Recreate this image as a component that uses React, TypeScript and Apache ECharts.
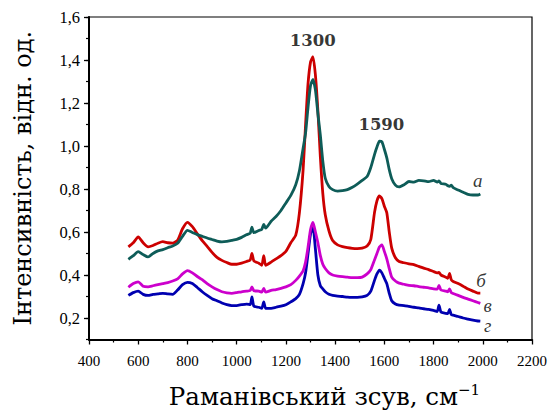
import React, { useEffect, useRef } from "react";
import * as echarts from "echarts";

// Raman shift, cm^-1
const ramanShift = [
  560, 580, 600, 620, 640, 660, 680, 700, 720, 740, 760, 780, 800, 820, 840, 860, 880, 900, 920, 940, 960, 980, 1000, 1020, 1040,
  1055, 1062, 1070, 1090, 1102, 1110, 1118,
  1140, 1160, 1180, 1200, 1220, 1240,
  1255, 1270, 1280, 1290, 1300, 1310, 1320, 1330, 1340, 1350, 1360,
  1375, 1390, 1410, 1430, 1450, 1470, 1490, 1510, 1530, 1545,
  1560, 1570, 1580, 1590, 1600, 1610, 1620, 1630, 1645, 1660,
  1680, 1700, 1720, 1740, 1760, 1780, 1800,
  1815, 1822, 1830, 1850, 1858, 1865, 1872, 1880,
  1900, 1920, 1940, 1960, 1980, 1990,
];

const intensityA = [
  0.473, 0.49, 0.509, 0.495, 0.484, 0.5, 0.512, 0.518, 0.527, 0.535, 0.548, 0.58, 0.608, 0.598, 0.588, 0.58, 0.572, 0.565, 0.558, 0.554, 0.556, 0.561, 0.566, 0.575, 0.587,
  0.595, 0.622, 0.597, 0.607, 0.612, 0.635, 0.618,
  0.65, 0.672, 0.7, 0.735, 0.77, 0.82,
  0.885, 0.99, 1.06, 1.18, 1.28, 1.31, 1.26, 1.15, 1.05, 0.93, 0.85,
  0.812, 0.797, 0.79, 0.792, 0.797, 0.808, 0.823, 0.84, 0.858, 0.9,
  0.96, 0.995, 1.022, 1.02, 0.985, 0.945, 0.89, 0.848, 0.818, 0.81,
  0.82, 0.835, 0.832, 0.84, 0.838, 0.834, 0.84,
  0.832, 0.838, 0.826, 0.822, 0.815, 0.812, 0.818, 0.806,
  0.795, 0.785, 0.775, 0.772, 0.772, 0.777,
];

const intensityB = [
  0.531, 0.55, 0.577, 0.55, 0.531, 0.537, 0.548, 0.555, 0.55, 0.548, 0.562, 0.615, 0.645, 0.625, 0.592, 0.56, 0.533, 0.505, 0.482, 0.468, 0.458, 0.45, 0.45, 0.455, 0.463,
  0.47, 0.5, 0.465, 0.455, 0.445, 0.49, 0.445,
  0.46, 0.475, 0.49, 0.51, 0.55, 0.585,
  0.69, 0.89, 1.1, 1.29, 1.39, 1.415, 1.33, 1.165, 0.95, 0.78, 0.68,
  0.605, 0.56, 0.54, 0.532, 0.527, 0.524, 0.523, 0.525, 0.535, 0.565,
  0.69, 0.745, 0.768, 0.755, 0.72, 0.69, 0.6, 0.525, 0.48, 0.463,
  0.457, 0.452, 0.448, 0.44, 0.432, 0.425, 0.416,
  0.41, 0.412, 0.4, 0.39, 0.385, 0.408, 0.378, 0.37,
  0.36, 0.348, 0.335, 0.325, 0.316, 0.316,
];

const intensityV = [
  0.343, 0.36, 0.368, 0.348, 0.345, 0.35, 0.355, 0.36, 0.365, 0.372, 0.382, 0.405, 0.42, 0.41, 0.393, 0.378, 0.36, 0.345, 0.332, 0.322, 0.317, 0.315, 0.318, 0.322, 0.325,
  0.328, 0.345, 0.327, 0.325, 0.32, 0.338, 0.32,
  0.328, 0.332, 0.338, 0.345, 0.355, 0.375,
  0.395, 0.42, 0.46, 0.53, 0.61, 0.645, 0.6, 0.55, 0.49, 0.45, 0.43,
  0.41, 0.4, 0.395, 0.392, 0.39, 0.388, 0.388, 0.39, 0.405, 0.425,
  0.47, 0.5, 0.53, 0.54, 0.51, 0.475, 0.43, 0.39, 0.372, 0.362,
  0.357, 0.352, 0.35, 0.346, 0.343, 0.34, 0.336,
  0.334, 0.352, 0.33, 0.325, 0.322, 0.335, 0.318, 0.314,
  0.305, 0.296, 0.288, 0.28, 0.272, 0.268,
];

const intensityG = [
  0.305, 0.318, 0.325, 0.31, 0.305, 0.31, 0.312, 0.315, 0.312, 0.31, 0.33, 0.355, 0.366, 0.36, 0.342, 0.322, 0.305, 0.29, 0.28, 0.27, 0.262, 0.258, 0.258, 0.262, 0.265,
  0.262, 0.298, 0.255, 0.25, 0.245, 0.275, 0.245,
  0.245, 0.25, 0.255, 0.262, 0.275, 0.29,
  0.31, 0.36, 0.41, 0.5, 0.59, 0.625, 0.52, 0.4, 0.35, 0.335, 0.322,
  0.31, 0.305, 0.302, 0.3, 0.297, 0.296, 0.296, 0.298, 0.305, 0.325,
  0.375, 0.405, 0.423, 0.41, 0.385, 0.36, 0.315, 0.28, 0.265, 0.26,
  0.258, 0.254, 0.25, 0.247, 0.243, 0.24, 0.235,
  0.23, 0.26, 0.228, 0.222, 0.22, 0.24, 0.216, 0.213,
  0.207, 0.2, 0.195, 0.19, 0.186, 0.185,
];

const curveNames = ["а", "б", "в", "г"];
const majorTicksY = [0.2, 0.4, 0.6, 0.8, 1.0, 1.2, 1.4, 1.6];
const peakLabels = ["1300", "1590"];
const peakPositions = [1309, 1588];
const peakLabelHeights = [1.49, 1.1];
const curveLabelPositions = [
  [1980, 0.84],
  [1993, 0.375],
  [2020, 0.26],
  [2020, 0.163],
];

const TITLE_FONT = "'DejaVu Serif', serif";
const TICK_FONT = "'Liberation Serif', 'Times New Roman', serif";

function zip(xs: number[], ys: number[]) {
  const n = Math.min(xs.length, ys.length);
  const out: number[][] = [];
  for (let i = 0; i < n; i++) out.push([xs[i], ys[i]]);
  return out;
}

export default function App() {
  const ref = useRef<HTMLDivElement>(null);

  useEffect(() => {
    if (!ref.current) return;
    const chart = echarts.init(ref.current, null, { renderer: "svg" });

    const colors = ["#0e5c58", "#cc0000", "#cc00cc", "#0000b0"];
    const values = [intensityA, intensityB, intensityV, intensityG];
    // draw order: г, в, б, а (а on top)
    const order = [3, 2, 1, 0];

    const lineSeries = order.map((i) => ({
      type: "line",
      name: curveNames[i],
      data: zip(ramanShift, values[i]),
      showSymbol: false,
      smooth: 0.2,
      lineStyle: { color: colors[i], width: 2.8 },
      itemStyle: { color: colors[i] },
      z: 3,
    }));

    const labelSeries = {
      type: "scatter",
      symbol: "rect",
      symbolSize: 1,
      itemStyle: { color: "rgba(0,0,0,0)" },
      silent: true,
      z: 5,
      data: [
        ...peakLabels.map((t, i) => ({
          value: [peakPositions[i], peakLabelHeights[i]],
          label: {
            show: true,
            position: "inside",
            formatter: t,
            fontFamily: TITLE_FONT,
            fontSize: 16.5,
            fontWeight: "bold",
            color: "#000",
          },
        })),
        ...curveNames.map((t, i) => ({
          value: curveLabelPositions[i],
          label: {
            show: true,
            position: "inside",
            formatter: t,
            fontFamily: TICK_FONT,
            fontStyle: "italic",
            fontSize: 19,
            color: "#000",
          },
        })),
      ],
    };

    chart.setOption({
      animation: false,
      backgroundColor: "#fff",
      grid: {
        left: 89,
        top: 17,
        right: 20,
        bottom: 71,
        show: true,
        borderColor: "#000",
        borderWidth: 1.2,
      },
      xAxis: {
        type: "value",
        min: 400,
        max: 2200,
        interval: 200,
        name: "{t|Раманівський зсув, см}{s|−1}",
        nameLocation: "middle",
        nameGap: 43,
        nameTextStyle: {
          padding: [0, 0, 0, 28],
          rich: {
            t: { fontFamily: TITLE_FONT, fontSize: 24.5, color: "#000", lineHeight: 28 },
            s: { fontFamily: TITLE_FONT, fontSize: 15, color: "#000", verticalAlign: "top", lineHeight: 15 },
          },
        },
        axisLine: { show: true, onZero: false, lineStyle: { color: "#000", width: 2 } },
        axisTick: { show: true, inside: false, length: 5, lineStyle: { color: "#000", width: 1.3 } },
        minorTick: { show: true, splitNumber: 2, length: 3, lineStyle: { color: "#000", width: 1.2 } },
        axisLabel: {
          fontFamily: TICK_FONT,
          fontSize: 15,
          color: "#000",
          margin: 14,
          formatter: (v: number) => String(Math.round(v)),
        },
        splitLine: { show: false },
      },
      yAxis: [
        {
          type: "value",
          min: 0.1,
          max: 1.6,
          interval: 0.1,
          name: "Інтенсивність, відн. од.",
          nameLocation: "middle",
          nameGap: 54,
          nameTextStyle: { fontFamily: TITLE_FONT, fontSize: 24, color: "#000" },
          axisLine: { show: true, onZero: false, lineStyle: { color: "#000", width: 2 } },
          axisTick: { show: true, inside: false, length: 3, lineStyle: { color: "#000", width: 1.2 } },
          axisLabel: {
            fontFamily: TICK_FONT,
            fontSize: 16.5,
            color: "#000",
            margin: 9,
            formatter: (v: number) => {
              const k = Math.round(v * 10);
              return k % 2 === 0 ? (k / 10).toFixed(1).replace(".", ",") : "";
            },
          },
          splitLine: { show: false },
        },
        {
          type: "value",
          min: 0.1,
          max: 1.6,
          interval: 0.1,
          position: "left",
          offset: 0,
          axisLine: { show: false },
          axisTick: { show: true, inside: false, length: 5, customValues: majorTicksY, lineStyle: { color: "#000", width: 1.3 } },
          axisLabel: { show: false },
          splitLine: { show: false },
        },
      ],
      series: [...lineSeries, labelSeries],
    });

    return () => chart.dispose();
  }, []);

  return (
    <div
      ref={ref}
      style={{ position: "fixed", left: 0, top: 0, width: 552, height: 414, background: "#fff" }}
    />
  );
}
